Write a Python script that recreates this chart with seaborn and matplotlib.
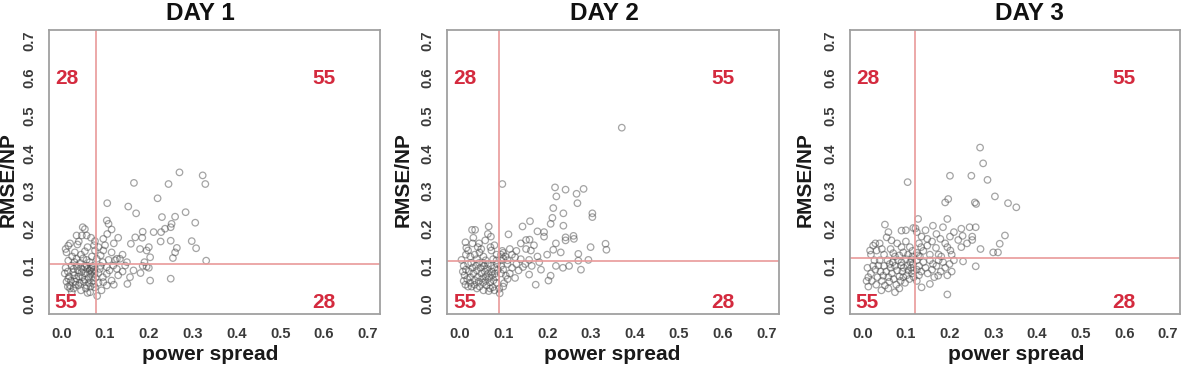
import matplotlib
matplotlib.use("Agg")
import matplotlib.pyplot as plt
import seaborn as sns
import pandas as pd

# ---------------- data ----------------
days = ["DAY 1", "DAY 2", "DAY 3"]
spread_thresholds = [0.08, 0.09, 0.12]
rmse_thresholds = [0.105, 0.112, 0.122]
quadrant_labels = {"top_left": "28", "top_right": "55", "bottom_left": "55", "bottom_right": "28"}
tick_values = [0.0, 0.1, 0.2, 0.3, 0.4, 0.5, 0.6, 0.7]
tick_labels = ["0.0", "0.1", "0.2", "0.3", "0.4", "0.5", "0.6", "0.7"]

day1_points = [
    # upper right
    (0.270, 0.349), (0.323, 0.341), (0.329, 0.318), (0.166, 0.321), (0.245, 0.318),
    (0.220, 0.280), (0.105, 0.267), (0.153, 0.258), (0.171, 0.240), (0.284, 0.243),
    (0.104, 0.221), (0.230, 0.230), (0.260, 0.231), (0.306, 0.215), (0.252, 0.212),
    (0.250, 0.203), (0.237, 0.199), (0.115, 0.197), (0.186, 0.191), (0.211, 0.190),
    (0.228, 0.190), (0.169, 0.176), (0.227, 0.165), (0.250, 0.167), (0.298, 0.166),
    (0.159, 0.159), (0.308, 0.147), (0.264, 0.148), (0.260, 0.136), (0.255, 0.121),
    (0.331, 0.114), (0.180, 0.145), (0.195, 0.141), (0.203, 0.123), (0.134, 0.119),
    (0.123, 0.115), (0.108, 0.212), (0.096, 0.172), (0.096, 0.141), (0.115, 0.136),
    (0.108, 0.116), (0.127, 0.119), (0.081, 0.119), (0.085, 0.150), (0.090, 0.128),
    (0.100, 0.155), (0.120, 0.160), (0.140, 0.130), (0.105, 0.185), (0.130, 0.175),
    (0.190, 0.110), (0.200, 0.150), (0.185, 0.175), (0.095, 0.110), (0.150, 0.110),
    # upper left
    (0.049, 0.203), (0.054, 0.198), (0.035, 0.181), (0.047, 0.181), (0.058, 0.181),
    (0.016, 0.154), (0.037, 0.157), (0.077, 0.166), (0.012, 0.136), (0.031, 0.136),
    (0.054, 0.139), (0.077, 0.141), (0.016, 0.114), (0.035, 0.119), (0.058, 0.116),
    (0.043, 0.108), (0.020, 0.160), (0.060, 0.150), (0.025, 0.125), (0.045, 0.130),
    (0.070, 0.125), (0.065, 0.110), (0.010, 0.145), (0.040, 0.165), (0.068, 0.175),
    (0.030, 0.110), (0.075, 0.155), (0.050, 0.120),
    # lower left
    (0.024, 0.101), (0.058, 0.101), (0.069, 0.097), (0.027, 0.083), (0.046, 0.083),
    (0.066, 0.079), (0.016, 0.066), (0.035, 0.066), (0.054, 0.063), (0.073, 0.061),
    (0.020, 0.048), (0.039, 0.048), (0.058, 0.048), (0.077, 0.043), (0.024, 0.030),
    (0.066, 0.030), (0.010, 0.095), (0.015, 0.085), (0.018, 0.072), (0.012, 0.058),
    (0.015, 0.045), (0.020, 0.040), (0.028, 0.092), (0.030, 0.075), (0.032, 0.058),
    (0.028, 0.040), (0.035, 0.100), (0.038, 0.088), (0.040, 0.072), (0.042, 0.055),
    (0.045, 0.095), (0.048, 0.070), (0.050, 0.090), (0.052, 0.058), (0.055, 0.080),
    (0.056, 0.040), (0.060, 0.092), (0.062, 0.068), (0.063, 0.055), (0.065, 0.088),
    (0.067, 0.045), (0.070, 0.085), (0.071, 0.072), (0.072, 0.100), (0.074, 0.052),
    (0.075, 0.090), (0.076, 0.080), (0.078, 0.068), (0.060, 0.028), (0.045, 0.035),
    (0.022, 0.060), (0.008, 0.080), (0.033, 0.050), (0.053, 0.098), (0.068, 0.092),
    # lower right
    (0.088, 0.092), (0.104, 0.097), (0.119, 0.101), (0.085, 0.081), (0.104, 0.079),
    (0.096, 0.057), (0.115, 0.061), (0.104, 0.048), (0.092, 0.035), (0.082, 0.020),
    (0.186, 0.100), (0.195, 0.098), (0.165, 0.088), (0.181, 0.081), (0.203, 0.061),
    (0.250, 0.066), (0.151, 0.052), (0.157, 0.070), (0.146, 0.101), (0.127, 0.092),
    (0.090, 0.100), (0.110, 0.088), (0.130, 0.075), (0.140, 0.085), (0.095, 0.070),
    (0.120, 0.050), (0.200, 0.095), (0.085, 0.055),
]

day2_points = [
    # upper right
    (0.098, 0.318), (0.218, 0.309), (0.242, 0.303), (0.283, 0.305), (0.221, 0.285),
    (0.267, 0.292), (0.269, 0.267), (0.214, 0.254), (0.237, 0.240), (0.303, 0.240),
    (0.303, 0.230), (0.212, 0.228), (0.161, 0.219), (0.208, 0.212), (0.237, 0.207),
    (0.144, 0.205), (0.178, 0.192), (0.193, 0.190), (0.193, 0.178), (0.112, 0.184),
    (0.242, 0.176), (0.242, 0.168), (0.261, 0.172), (0.152, 0.169), (0.152, 0.145),
    (0.163, 0.141), (0.214, 0.143), (0.231, 0.136), (0.271, 0.132), (0.299, 0.150),
    (0.335, 0.143), (0.333, 0.159), (0.178, 0.125), (0.159, 0.116), (0.127, 0.123),
    (0.271, 0.114), (0.294, 0.116), (0.370, 0.468), (0.095, 0.130), (0.100, 0.120),
    (0.098, 0.140), (0.105, 0.125), (0.110, 0.115), (0.120, 0.130), (0.130, 0.140),
    (0.140, 0.118), (0.095, 0.115), (0.100, 0.135), (0.115, 0.145), (0.140, 0.160),
    (0.170, 0.155), (0.200, 0.130), (0.220, 0.160), (0.160, 0.170), (0.260, 0.180),
    # upper left
    (0.067, 0.205), (0.029, 0.196), (0.036, 0.196), (0.072, 0.178), (0.032, 0.175),
    (0.059, 0.168), (0.014, 0.163), (0.045, 0.160), (0.016, 0.148), (0.042, 0.150),
    (0.071, 0.150), (0.020, 0.141), (0.046, 0.136), (0.073, 0.141), (0.005, 0.116),
    (0.077, 0.118), (0.025, 0.125), (0.055, 0.125), (0.060, 0.115), (0.085, 0.130),
    (0.080, 0.155), (0.035, 0.130), (0.065, 0.185), (0.040, 0.118), (0.015, 0.130),
    (0.085, 0.115), (0.050, 0.145), (0.030, 0.160),
    # lower left
    (0.076, 0.043), (0.067, 0.033), (0.027, 0.108), (0.054, 0.107), (0.010, 0.100),
    (0.015, 0.090), (0.012, 0.075), (0.010, 0.060), (0.014, 0.050), (0.018, 0.065),
    (0.020, 0.105), (0.022, 0.085), (0.025, 0.070), (0.025, 0.055), (0.028, 0.045),
    (0.030, 0.095), (0.032, 0.080), (0.035, 0.062), (0.035, 0.050), (0.038, 0.100),
    (0.040, 0.088), (0.042, 0.070), (0.044, 0.058), (0.046, 0.045), (0.048, 0.095),
    (0.050, 0.080), (0.052, 0.066), (0.054, 0.055), (0.056, 0.100), (0.058, 0.085),
    (0.060, 0.072), (0.060, 0.060), (0.062, 0.048), (0.064, 0.092), (0.066, 0.080),
    (0.068, 0.068), (0.070, 0.056), (0.072, 0.100), (0.074, 0.085), (0.075, 0.075),
    (0.078, 0.062), (0.080, 0.095), (0.082, 0.080), (0.084, 0.070), (0.086, 0.105),
    (0.088, 0.090), (0.085, 0.055), (0.070, 0.040), (0.055, 0.035), (0.040, 0.040),
    (0.020, 0.045), (0.008, 0.085), (0.065, 0.105), (0.045, 0.108), (0.080, 0.035),
    # lower right
    (0.182, 0.110), (0.145, 0.097), (0.135, 0.088), (0.159, 0.077), (0.186, 0.090),
    (0.208, 0.074), (0.203, 0.061), (0.236, 0.095), (0.277, 0.090), (0.174, 0.050),
    (0.127, 0.068), (0.106, 0.074), (0.102, 0.054), (0.091, 0.039), (0.092, 0.027),
    (0.095, 0.100), (0.100, 0.090), (0.110, 0.105), (0.120, 0.095), (0.095, 0.080),
    (0.110, 0.065), (0.130, 0.105), (0.150, 0.105), (0.165, 0.100), (0.100, 0.045),
    (0.220, 0.100), (0.250, 0.100), (0.115, 0.080),
]

day3_points = [
    # upper right
    (0.270, 0.415), (0.277, 0.373), (0.201, 0.340), (0.250, 0.340), (0.287, 0.329),
    (0.304, 0.285), (0.197, 0.278), (0.190, 0.269), (0.258, 0.269), (0.261, 0.265),
    (0.334, 0.267), (0.353, 0.256), (0.128, 0.225), (0.195, 0.225), (0.162, 0.207),
    (0.185, 0.203), (0.227, 0.199), (0.246, 0.203), (0.260, 0.203), (0.136, 0.178),
    (0.149, 0.172), (0.179, 0.172), (0.201, 0.178), (0.220, 0.169), (0.252, 0.178),
    (0.252, 0.169), (0.327, 0.181), (0.315, 0.159), (0.149, 0.154), (0.169, 0.148),
    (0.202, 0.141), (0.227, 0.150), (0.271, 0.145), (0.300, 0.136), (0.311, 0.136),
    (0.132, 0.125), (0.181, 0.125), (0.122, 0.200), (0.125, 0.190), (0.130, 0.160),
    (0.140, 0.140), (0.155, 0.130), (0.160, 0.165), (0.170, 0.185), (0.190, 0.160),
    (0.210, 0.190), (0.230, 0.180), (0.125, 0.135), (0.135, 0.150), (0.145, 0.195),
    (0.175, 0.130), (0.195, 0.150), (0.205, 0.130), (0.240, 0.160), (0.128, 0.128),
    # upper left
    (0.104, 0.323), (0.052, 0.210), (0.090, 0.194), (0.117, 0.201), (0.056, 0.176),
    (0.067, 0.168), (0.025, 0.154), (0.033, 0.141), (0.018, 0.141), (0.071, 0.134),
    (0.094, 0.136), (0.109, 0.150), (0.100, 0.195), (0.060, 0.190), (0.040, 0.160),
    (0.080, 0.160), (0.100, 0.165), (0.115, 0.140), (0.020, 0.130), (0.050, 0.130),
    (0.075, 0.125), (0.090, 0.150), (0.045, 0.145), (0.030, 0.160), (0.065, 0.145),
    (0.105, 0.130), (0.085, 0.128), (0.115, 0.125),
    # lower left
    (0.117, 0.088), (0.094, 0.070), (0.075, 0.030), (0.044, 0.035), (0.014, 0.045),
    (0.014, 0.070), (0.048, 0.074), (0.037, 0.101), (0.063, 0.105), (0.089, 0.101),
    (0.113, 0.118), (0.020, 0.080), (0.022, 0.060), (0.025, 0.100), (0.028, 0.115),
    (0.030, 0.090), (0.032, 0.050), (0.035, 0.070), (0.040, 0.115), (0.042, 0.085),
    (0.045, 0.060), (0.050, 0.100), (0.052, 0.048), (0.055, 0.085), (0.058, 0.115),
    (0.060, 0.070), (0.062, 0.058), (0.065, 0.095), (0.068, 0.080), (0.070, 0.110),
    (0.072, 0.065), (0.075, 0.100), (0.078, 0.050), (0.080, 0.088), (0.082, 0.115),
    (0.085, 0.072), (0.088, 0.060), (0.090, 0.110), (0.092, 0.085), (0.095, 0.095),
    (0.098, 0.055), (0.100, 0.118), (0.102, 0.075), (0.104, 0.100), (0.106, 0.088),
    (0.108, 0.065), (0.110, 0.110), (0.112, 0.095), (0.114, 0.080), (0.116, 0.105),
    (0.118, 0.070), (0.085, 0.040), (0.060, 0.040), (0.010, 0.060), (0.012, 0.095),
    # lower right
    (0.231, 0.112), (0.260, 0.099), (0.185, 0.110), (0.162, 0.105), (0.174, 0.074),
    (0.155, 0.052), (0.136, 0.043), (0.195, 0.024), (0.125, 0.115), (0.130, 0.100),
    (0.135, 0.085), (0.140, 0.110), (0.145, 0.095), (0.150, 0.080), (0.155, 0.115),
    (0.160, 0.090), (0.165, 0.070), (0.170, 0.100), (0.175, 0.115), (0.180, 0.085),
    (0.190, 0.095), (0.195, 0.075), (0.200, 0.105), (0.205, 0.085), (0.125, 0.060),
    (0.130, 0.075), (0.210, 0.115), (0.125, 0.090),
]

all_points = [day1_points, day2_points, day3_points]

# ---------------- style ----------------
sns.set_style("white")
plt.rcParams["font.family"] = ["Liberation Sans", "DejaVu Sans"]

W, H = 1188, 366
fig = plt.figure(figsize=(W / 100, H / 100), dpi=100)

axes_px = [(49, 380), (447, 779), (850, 1180)]
top_px, bottom_px = 30, 314
title_x = [200, 604, 1029]
ylabel_x = [8, 403, 805]
xlabel_x = [210, 612, 1016]

line_red = "#e99a9a"
text_red = "#d42a3e"
lim = (-0.028, 0.728)

for i, (day, pts) in enumerate(zip(days, all_points)):
    l, r = axes_px[i]
    ax = fig.add_axes([l / W, 1 - bottom_px / H, (r - l) / W, (bottom_px - top_px) / H])
    df = pd.DataFrame(pts, columns=["spread", "rmse"])
    sns.scatterplot(data=df, x="spread", y="rmse", ax=ax, marker="o", s=22,
                    facecolors="none", edgecolor="#4a4a4a", linewidth=0.9,
                    alpha=0.5, legend=False)
    ax.axvline(spread_thresholds[i], color=line_red, lw=1.2, zorder=1)
    ax.axhline(rmse_thresholds[i], color=line_red, lw=1.2, zorder=1)

    ax.set_xlim(*lim)
    ax.set_ylim(*lim)
    ax.set_xticks(tick_values)
    ax.set_xticklabels(tick_labels)
    ax.set_yticks(tick_values)
    ax.set_yticklabels(tick_labels, rotation=90, va="center")
    ax.tick_params(axis="both", direction="out", length=5, width=1.0, color="#8a8a8a",
                   labelsize=10.5, labelcolor="#3a3a3a", pad=4)
    for lab in ax.get_xticklabels() + ax.get_yticklabels():
        lab.set_fontweight("bold")
    for sp in ax.spines.values():
        sp.set_color("#a0a0a0")
        sp.set_linewidth(1.3)
    ax.set_xlabel("")
    ax.set_ylabel("")

    kw = dict(color=text_red, fontsize=15, fontweight="bold", ha="center", va="center")
    ax.text(0.012, 0.6, quadrant_labels["top_left"], **kw)
    ax.text(0.60, 0.6, quadrant_labels["top_right"], **kw)
    ax.text(0.012, 0.003, quadrant_labels["bottom_left"], **kw)
    ax.text(0.60, 0.003, quadrant_labels["bottom_right"], **kw)

    fig.text(title_x[i] / W, 1 - 13 / H, day, ha="center", va="center",
             fontsize=17.5, fontweight="bold", color="#111111")
    fig.text(ylabel_x[i] / W, 1 - 180 / H, "RMSE/NP", ha="center", va="center",
             rotation=90, fontsize=15, fontweight="bold", color="#1a1a1a")
    fig.text(xlabel_x[i] / W, 1 - 354 / H, "power spread", ha="center", va="center",
             fontsize=15, fontweight="bold", color="#1a1a1a")

fig.savefig("out.png", dpi=100, facecolor="white")
